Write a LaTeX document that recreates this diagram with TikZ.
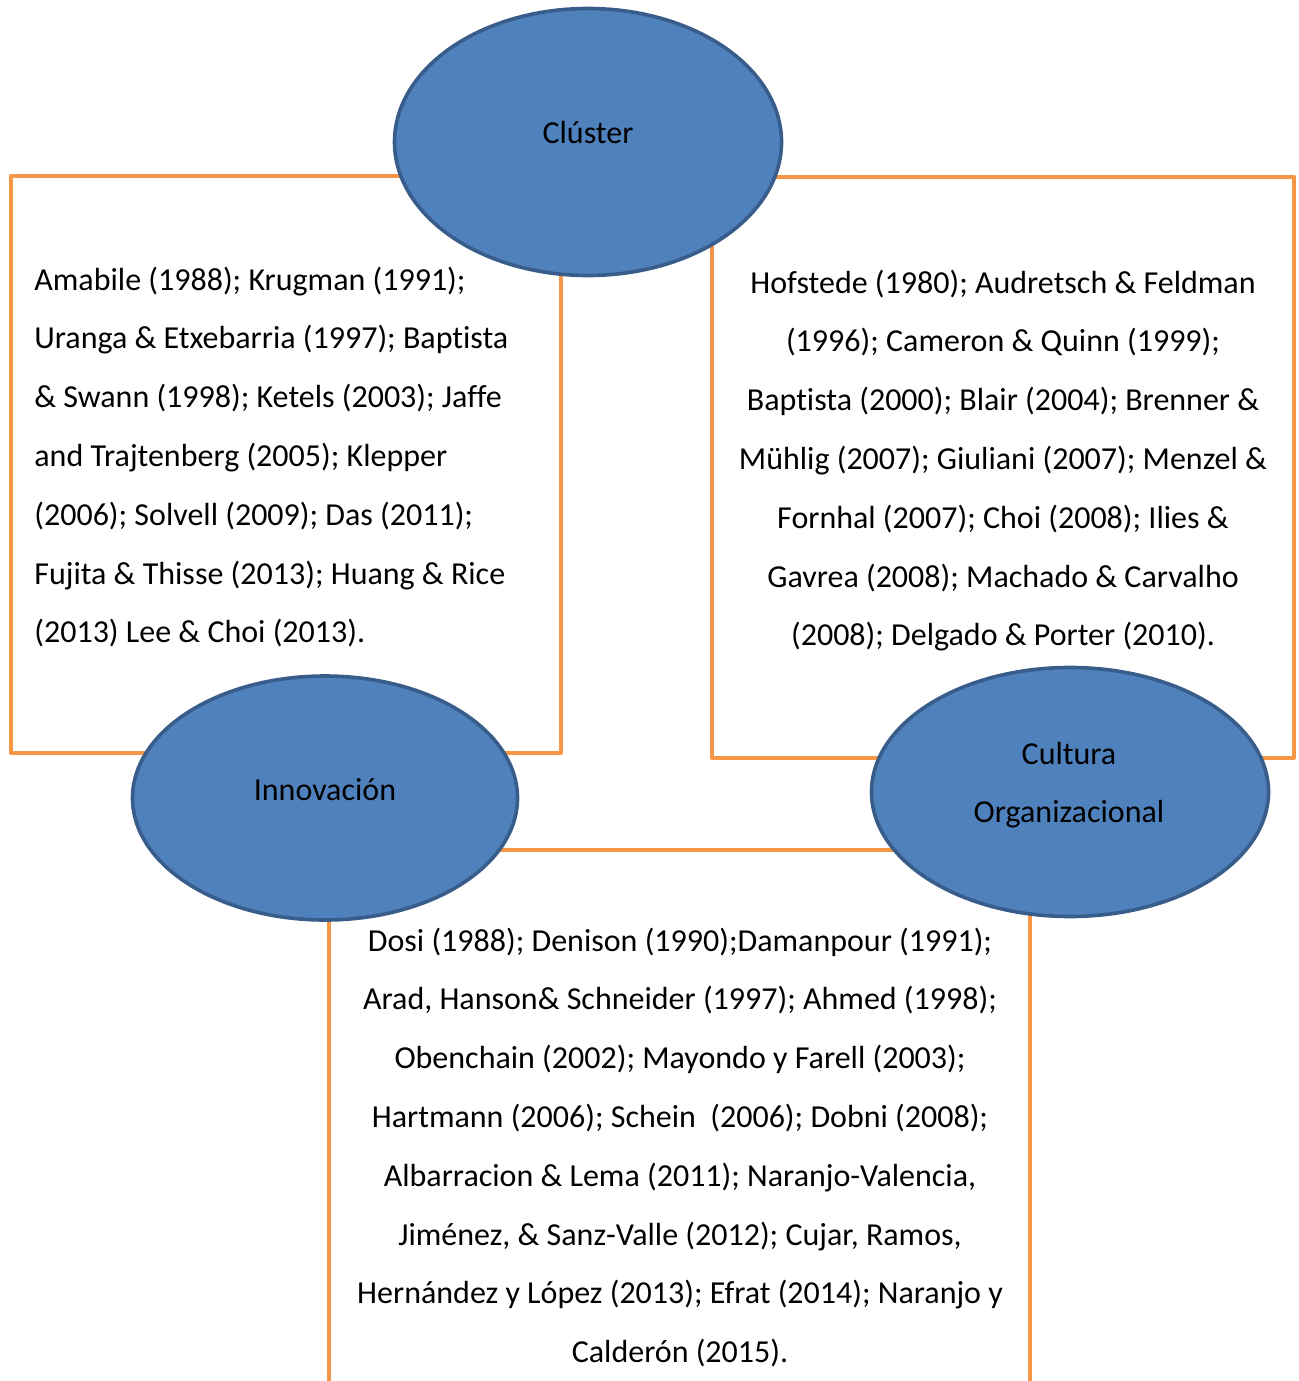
\documentclass[tikz,border=0pt]{standalone}
\usepackage{fontspec}
\setmainfont[Ligatures=NoCommon]{Carlito}
\usetikzlibrary{shapes.geometric}

\definecolor{bubble}{HTML}{4F81BD}
\definecolor{bubbleline}{HTML}{385D8A}
\definecolor{frameline}{HTML}{F79646}

\tikzset{
  frameline/.style={draw=frameline, line width=2pt, line join=round},
  bubble/.style={ellipse, fill=bubble, draw=bubbleline, line width=1.8pt, inner sep=0pt},
  bodytext/.style={inner sep=0pt, font=\fontsize{16}{29.4}\selectfont},
}

\begin{document}
\begin{tikzpicture}[x=0.5pt, y=-0.5pt]
  \useasboundingbox (0,0) rectangle (1298,1381);
  \fill[white] (0,0) rectangle (1298,1381);

  % corner points of the three frames
  \coordinate (lbTL) at (11,175.5);
  \coordinate (lbBR) at (561,752.5);
  \coordinate (rbTL) at (712,176.5);
  \coordinate (rbBR) at (1294,757.5);
  \coordinate (bbBL) at (329,1390);
  \coordinate (bbTL) at (329,850);
  \coordinate (bbTR) at (1030,850);
  \coordinate (bbBR) at (1030,1390);

  % frames behind the bubbles
  \draw[frameline] (lbTL) rectangle (lbBR);
  \draw[frameline] (rbTL) rectangle (rbBR);
  \draw[frameline] (bbBL) -- (bbTL) -- (bbTR) -- (bbBR);

  % bubbles
  \node[bubble, minimum width=193.5pt, minimum height=133.5pt] (cluster) at (588,142) {};
  \node[bubble, minimum width=192.5pt, minimum height=122pt] (innov) at (325,798) {};
  \node[bubble, minimum width=198.5pt, minimum height=124.5pt] (cultura) at (1070,792) {};

  % bubble labels
  \node[bodytext, anchor=base] (clusterlbl) at (588,143) {Clúster};
  \node[bodytext, anchor=base] (innovlbl) at (325,800) {Innovación};
  \node[bodytext, anchor=base] (culturalbl) at (1069,764)
    {\begin{tabular}[t]{@{}c@{}}Cultura\\Organizacional\end{tabular}};

  % reference lists
  \node[bodytext, anchor=base west] (reflist1) at (34,290)
    {\begin{tabular}[t]{@{}l@{}}
      Amabile (1988); Krugman (1991);\\
      Uranga \& Etxebarria (1997); Baptista\\
      \& Swann (1998); Ketels (2003); Jaffe\\
      and Trajtenberg (2005); Klepper\\
      (2006); Solvell (2009); Das (2011);\\
      Fujita \& Thisse (2013); Huang \& Rice\\
      (2013) Lee \& Choi (2013).
    \end{tabular}};

  \node[bodytext, anchor=base] (reflist2) at (1003,293)
    {\begin{tabular}[t]{@{}c@{}}
      Hofstede (1980); Audretsch \& Feldman\\
      (1996); Cameron \& Quinn (1999);\\
      Baptista (2000); Blair (2004); Brenner \&\\
      Mühlig (2007); Giuliani (2007); Menzel \&\\
      Fornhal (2007); Choi (2008); Ilies \&\\
      Gavrea (2008); Machado \& Carvalho\\
      (2008); Delgado \& Porter (2010).
    \end{tabular}};

  \node[bodytext, anchor=base] (reflist3) at (680,951)
    {\begin{tabular}[t]{@{}c@{}}
      Dosi (1988); Denison (1990);Damanpour (1991);\\
      Arad, Hanson\& Schneider (1997); Ahmed (1998);\\
      Obenchain (2002); Mayondo y Farell (2003);\\
      Hartmann (2006); Schein\ \ (2006); Dobni (2008);\\
      Albarracion \& Lema (2011); Naranjo-Valencia,\\
      Jiménez, \& Sanz-Valle (2012); Cujar, Ramos,\\
      Hernández y López (2013); Efrat (2014); Naranjo y\\
      Calderón (2015).
    \end{tabular}};
\end{tikzpicture}
\end{document}
